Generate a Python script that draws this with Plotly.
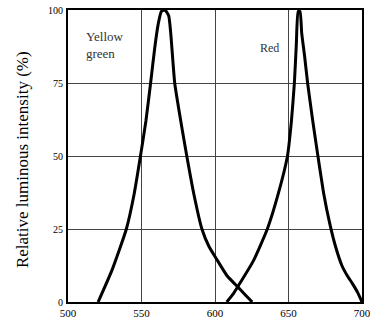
import plotly.graph_objects as go

# Yellow green LED spectrum (wavelength nm, relative intensity %)
yg_wavelength = [520.5, 530, 539.7, 545, 549.3, 553, 556.2, 559, 561.3, 563.5, 566, 568.5, 569.9, 572.6, 576.7, 580.8, 585.6, 591.1, 595.9, 600.7, 608.2, 615.8, 620.5, 625.3]
yg_intensity = [0, 11, 25, 37, 50, 62, 75, 87, 95, 99.5, 100, 98, 92, 75, 62, 50, 37, 25, 19, 15, 9, 5, 2.5, 0]

# Red LED spectrum
red_wavelength = [608, 612, 615.8, 626, 635.6, 643, 649.3, 652, 654, 655.3, 656.6, 657.8, 659, 661, 663, 666.5, 670, 674, 678, 682, 686.3, 690, 693.5, 697, 700]
red_intensity = [0, 2.5, 5.5, 14, 25, 37, 50, 62, 75, 88, 99.5, 99.5, 92, 84, 75, 62, 50, 37, 27, 19, 12.5, 9, 6.3, 3.3, 0]

x_ticks = [500, 550, 600, 650, 700]
y_ticks = [0, 25, 50, 75, 100]

serif = "Liberation Serif, Times New Roman, serif"

fig = go.Figure()
fig.add_trace(go.Scatter(x=yg_wavelength, y=yg_intensity, mode="lines",
                         line=dict(color="black", width=3, shape="spline", smoothing=0.5),
                         name="Yellow green", showlegend=False, hoverinfo="skip"))
fig.add_trace(go.Scatter(x=red_wavelength, y=red_intensity, mode="lines",
                         line=dict(color="black", width=3, shape="spline", smoothing=0.5),
                         name="Red", showlegend=False, hoverinfo="skip"))

fig.update_layout(
    width=370, height=321,
    margin=dict(l=68, r=8, t=10, b=19),
    paper_bgcolor="white", plot_bgcolor="white",
    font=dict(family=serif, color="black"),
    xaxis=dict(range=[500, 700], tickvals=x_ticks, ticktext=[str(v) for v in x_ticks],
               showgrid=True, gridcolor="#444", gridwidth=1, automargin=False,
               showline=True, linecolor="black", linewidth=2, mirror=True,
               ticks="", ticklabeloverflow="allow",
               tickfont=dict(size=11, family=serif), zeroline=False),
    yaxis=dict(range=[0, 100], tickvals=y_ticks, ticktext=[str(v) for v in y_ticks],
               showgrid=True, gridcolor="#444", gridwidth=1, automargin=False,
               showline=True, linecolor="black", linewidth=2, mirror=True,
               ticks="", ticklabelstandoff=1, ticklabeloverflow="allow",
               tickfont=dict(size=10, family=serif), zeroline=False),
)

fig.add_annotation(text="Relative luminous intensity (%)", xref="paper", yref="paper",
                   x=(22 - 68) / 294, y=0.486, xanchor="center", yanchor="middle",
                   textangle=-90, showarrow=False,
                   font=dict(size=17, family=serif, color="black"))
fig.add_annotation(text="Yellow<br>green", xref="x", yref="y", x=511, y=88,
                   xanchor="left", align="left", showarrow=False,
                   font=dict(size=13, family=serif, color="#333"))
fig.add_annotation(text="Red", xref="x", yref="y", x=645, y=87,
                   xanchor="right", showarrow=False,
                   font=dict(size=12, family=serif, color="#333"))

fig.write_html("out.html", config={"displayModeBar": False},
               post_script="document.body.style.margin='0';document.body.style.overflow='hidden';")
